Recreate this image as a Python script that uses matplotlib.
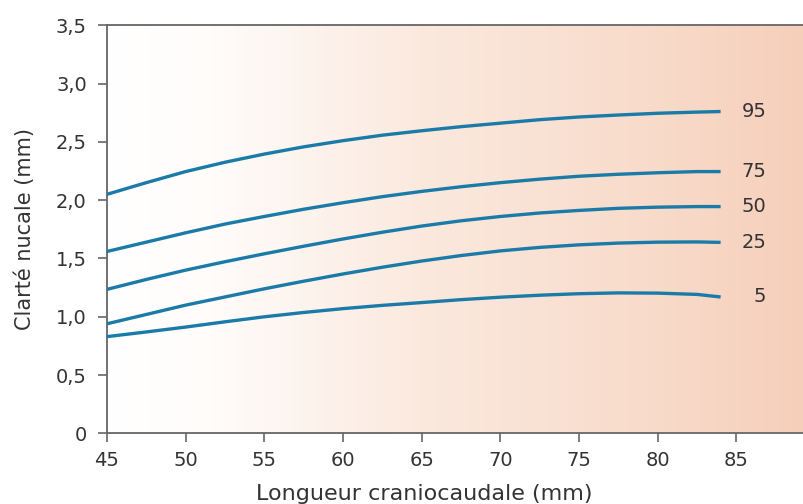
import numpy as np
import matplotlib
matplotlib.use("Agg")
import matplotlib.pyplot as plt
from matplotlib.colors import LinearSegmentedColormap

plt.rcParams['font.family'] = ['DejaVu Sans']

# longueur craniocaudale (mm)
lcc = [45, 47.5, 50, 52.5, 55, 57.5, 60, 62.5, 65,
       67.5, 70, 72.5, 75, 77.5, 80, 82.5, 84]

# percentiles of nuchal translucency (mm)
p95 = [2.05, 2.15, 2.245, 2.325, 2.395, 2.457, 2.51, 2.557, 2.595,
       2.63, 2.66, 2.69, 2.713, 2.73, 2.745, 2.755, 2.76]
p75 = [1.56, 1.64, 1.72, 1.795, 1.86, 1.922, 1.978, 2.03, 2.075,
       2.115, 2.15, 2.18, 2.205, 2.222, 2.235, 2.245, 2.245]
p50 = [1.235, 1.32, 1.40, 1.472, 1.54, 1.605, 1.667, 1.725, 1.778,
       1.823, 1.86, 1.89, 1.912, 1.93, 1.94, 1.945, 1.945]
p25 = [0.94, 1.02, 1.10, 1.17, 1.24, 1.305, 1.367, 1.425, 1.478,
       1.525, 1.565, 1.595, 1.617, 1.632, 1.64, 1.642, 1.638]
p5 = [0.83, 0.87, 0.912, 0.957, 1.00, 1.037, 1.07, 1.098, 1.122,
      1.147, 1.168, 1.185, 1.198, 1.205, 1.203, 1.192, 1.17]

labels = ["95", "75", "50", "25", "5"]
curves = [p95, p75, p50, p25, p5]

xticks = [45, 50, 55, 60, 65, 70, 75, 80, 85]
yticks = [0, 0.5, 1.0, 1.5, 2.0, 2.5, 3.0, 3.5]
ytick_labels = ["0", "0,5", "1,0", "1,5", "2,0", "2,5", "3,0", "3,5"]

line_col = '#1a7aa8'
grey = '#666666'
txt = '#333333'

fig = plt.figure(figsize=(8.04, 5.04), dpi=100)
ax = fig.add_axes([0.133, 0.140, 0.867, 0.810])

xmin, xmax = 45, 89.3
ymin, ymax = 0, 3.5

# background gradient white -> salmon
cmap = LinearSegmentedColormap.from_list(
    'bg', [(0.0, '#ffffff'), (0.15, '#fffcfa'), (0.45, '#fbe9de'),
           (0.8, '#f8dac9'), (1.0, '#f6cfbb')])
grad = np.linspace(0, 1, 256).reshape(1, -1)
ax.imshow(grad, extent=[xmin, xmax, ymin, ymax], aspect='auto',
          cmap=cmap, zorder=0)

for lab, vals in zip(labels, curves):
    ax.plot(lcc, vals, color=line_col, lw=2.4, solid_capstyle='butt', zorder=3)
    ax.text(86.9, vals[-1], lab, ha='right', va='center',
            fontsize=14, color=txt)

ax.set_xlim(xmin, xmax)
ax.set_ylim(ymin, ymax)
ax.set_xticks(xticks)
ax.set_yticks(yticks)
ax.set_yticklabels(ytick_labels)

for s in ['left', 'bottom', 'top']:
    ax.spines[s].set_color(grey)
    ax.spines[s].set_linewidth(1.3)
ax.spines['right'].set_visible(False)
ax.tick_params(direction='out', length=6.5, width=1.2, color=grey,
               labelsize=14, labelcolor=txt)
ax.tick_params(axis='y', pad=8)
ax.tick_params(axis='x', pad=6)

ax.set_xlabel("Longueur craniocaudale (mm)", fontsize=16, color=txt)
ax.set_ylabel("Clarté nucale (mm)", fontsize=15, color=txt)
ax.xaxis.set_label_coords(0.455, -0.125)
ax.yaxis.set_label_coords(-0.103, 0.5)

fig.savefig("out.png", dpi=100)
